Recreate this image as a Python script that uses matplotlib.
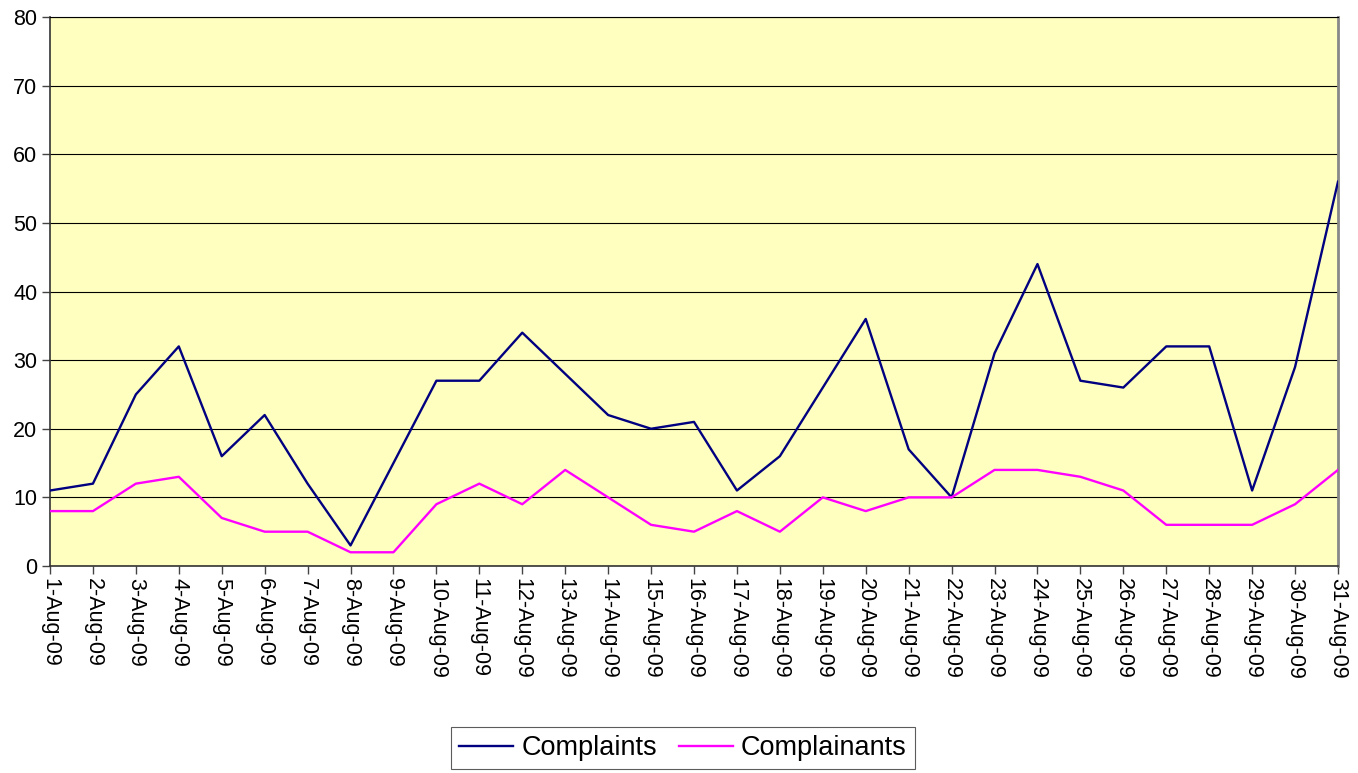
import matplotlib
matplotlib.use("Agg")
import matplotlib.pyplot as plt

dates = [f"{d}-Aug-09" for d in range(1, 32)]
complaints = [11, 12, 25, 32, 16, 22, 12, 3, 15, 27, 27, 34, 28, 22, 20, 21,
              11, 16, 26, 36, 17, 10, 31, 44, 27, 26, 32, 32, 11, 29, 56]
complainants = [8, 8, 12, 13, 7, 5, 5, 2, 2, 9, 12, 9, 14, 10, 6, 5,
                8, 5, 10, 8, 10, 10, 14, 14, 13, 11, 6, 6, 6, 9, 14]
y_ticks = [0, 10, 20, 30, 40, 50, 60, 70, 80]

plt.rcParams['font.family'] = ['Liberation Sans', 'DejaVu Sans']

fig = plt.figure(figsize=(13.58, 7.73), dpi=100)
ax = fig.add_axes([50/1358, 1-566/773, (1338-50)/1358, (566-17)/773])
ax.set_facecolor('#FFFFC0')

x = list(range(len(dates)))
ax.plot(x, complaints, color='#000080', lw=1.7, label='Complaints', zorder=3)
ax.plot(x, complainants, color='#FF00FF', lw=1.7, label='Complainants', zorder=3)

ax.set_xlim(0, len(dates) - 1)
ax.set_ylim(0, 80)
ax.set_yticks(y_ticks)
ax.set_yticklabels([str(v) for v in y_ticks], fontsize=15.5)
ax.set_xticks(x)
ax.set_xticklabels(dates, rotation=-90, fontsize=15.5, va='top', ha='center')
ax.yaxis.grid(True, color='black', lw=0.8)
ax.set_axisbelow(True)
ax.tick_params(axis='both', direction='out', length=6, width=1, color='#444444', pad=3)
for s in ['left', 'bottom']:
    ax.spines[s].set_color('#333333')
    ax.spines[s].set_linewidth(1.2)
ax.spines['right'].set_color('#888888')
ax.spines['right'].set_linewidth(2)
ax.spines['top'].set_color('black')
ax.spines['top'].set_linewidth(0.8)

leg = fig.legend(loc='upper center', bbox_to_anchor=(683/1358, 1-727/773), ncol=2,
                 fontsize=19.5, frameon=True, fancybox=False, edgecolor='#333333',
                 handlelength=2.0, columnspacing=0.8, borderpad=0.3,
                 handletextpad=0.3, borderaxespad=0)
leg.get_frame().set_linewidth(0.8)

fig.savefig('out.png', dpi=100, facecolor='white')
